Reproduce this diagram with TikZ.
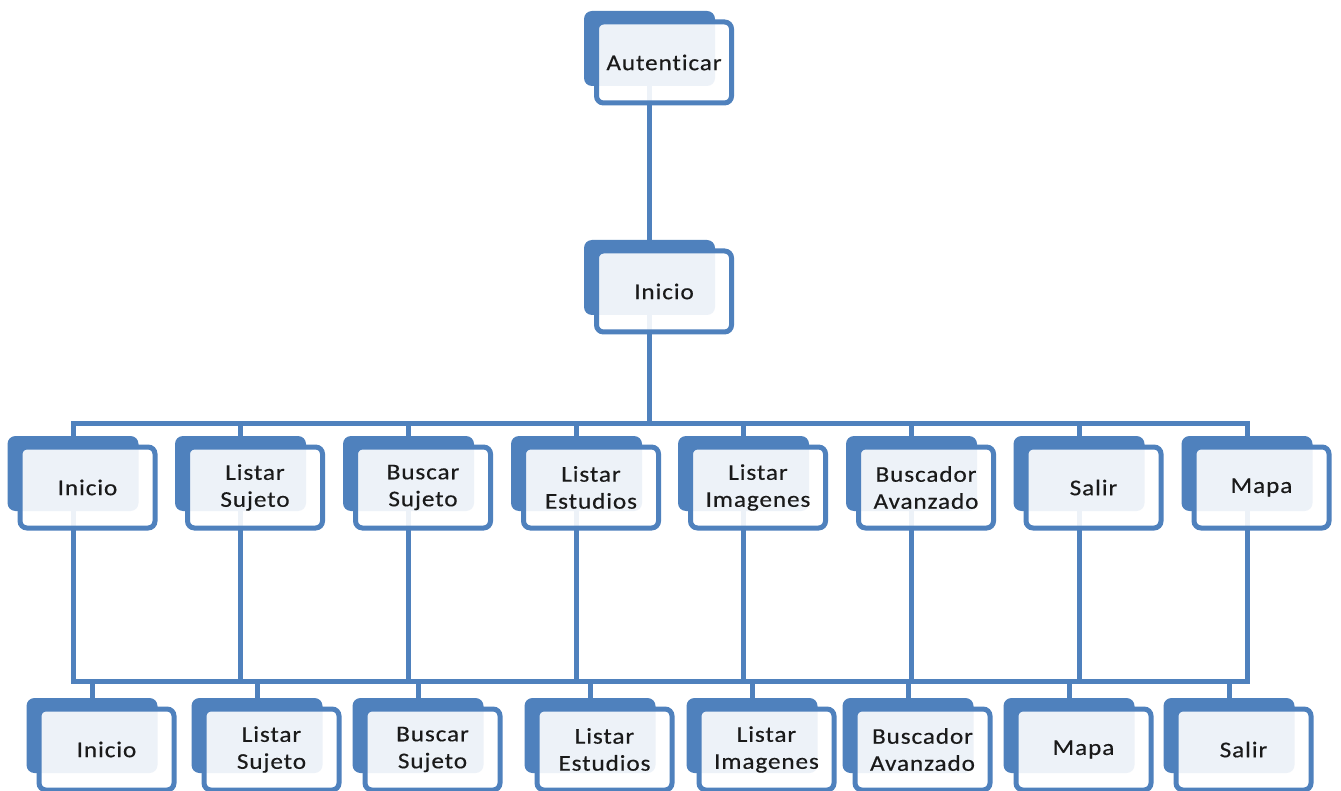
\documentclass[tikz,border=0pt]{standalone}
\usepackage{fontspec}
\newfontfamily\lblfont[FakeStretch=1.12,FakeBold=0.4,LetterSpace=4,Ligatures={NoCommon}]{Carlito}
\definecolor{chartblue}{HTML}{4F81BD}
\definecolor{labelink}{HTML}{1A1A1A}
\pgfdeclarelayer{background}
\pgfsetlayers{background,main}
\tikzset{
  backbox/.style={fill=chartblue, draw=none, rounded corners=8pt,
    minimum width=131pt, minimum height=75pt, inner sep=0pt},
  frontbox/.style={draw=chartblue, line width=5pt, fill=white,
    fill opacity=0.9, text opacity=1, rounded corners=7pt,
    minimum width=135pt, minimum height=81pt, inner sep=0pt,
    align=center, text=labelink,
    font=\lblfont\fontsize{22.5}{27}\selectfont},
  link/.style={draw=chartblue, line width=5pt},
}
% #1 name, #2 centre x, #3 top of the back card, #4 label
\newcommand\orgunit[4]{%
  \node[backbox] (#1) at (#2,#3+37.5) {};
  \node[frontbox] (#1-f) at ([shift={(14.5,14)}]#1.center) {#4};
}
\begin{document}
\begin{tikzpicture}[x=1pt,y=-1pt]
  \useasboundingbox (0,0) rectangle (1341,791);

  % top of the hierarchy
  \orgunit{auth}{649.5}{11}{Autenticar}
  \orgunit{home}{649.5}{240}{Inicio}

  % menu entries
  \orgunit{m1}{73}{436}{Inicio}
  \orgunit{m2}{240.5}{436}{Listar\\Sujeto}
  \orgunit{m3}{408.5}{436}{Buscar\\Sujeto}
  \orgunit{m4}{576.5}{436}{Listar\\Estudios}
  \orgunit{m5}{743.5}{436}{Listar\\Imagenes}
  \orgunit{m6}{911.5}{436}{Buscador\\Avanzado}
  \orgunit{m7}{1079}{436}{Salir}
  \orgunit{m8}{1247}{436}{Mapa}

  % pages reachable from every entry
  \orgunit{s1}{92}{698}{Inicio}
  \orgunit{s2}{257}{698}{Listar\\Sujeto}
  \orgunit{s3}{418}{698}{Buscar\\Sujeto}
  \orgunit{s4}{590}{698}{Listar\\Estudios}
  \orgunit{s5}{752}{698}{Listar\\Imagenes}
  \orgunit{s6}{908}{698}{Buscador\\Avanzado}
  \orgunit{s7}{1069}{698}{Mapa}
  \orgunit{s8}{1229}{698}{Salir}

  \begin{pgfonlayer}{background}
    \fill[white] (0,0) rectangle (1341,791);
    \coordinate (busA) at (0,423);
    \coordinate (busB) at (0,681);
    \draw[link] (auth.center) -- (home.center);
    \foreach \k in {1,...,8}
      \draw[link] (home.center) -- (home |- busA) -| (m\k.center);
    \draw[link] (m1.center) |- (m8 |- busB) -- (m8.center);
    \foreach \k in {2,...,7}
      \draw[link] (m\k.center) -- (m\k |- busB);
    \foreach \j in {1,...,8}
      \draw[link] (s\j |- busB) -- (s\j.center);
  \end{pgfonlayer}
\end{tikzpicture}
\end{document}
